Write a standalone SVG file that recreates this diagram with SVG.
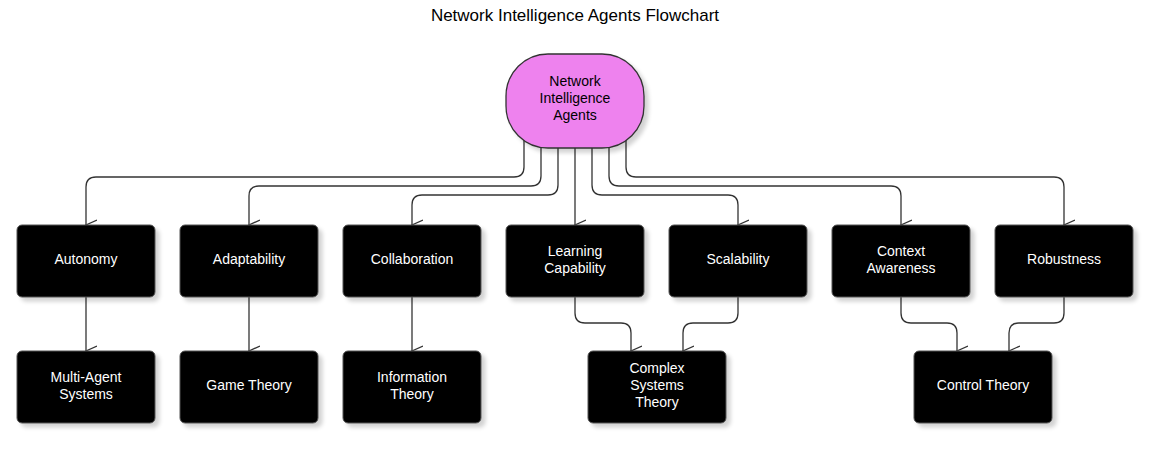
<svg xmlns="http://www.w3.org/2000/svg" width="1166" height="467" viewBox="0 0 1166 467">
<defs>
<marker id="a" markerWidth="12" markerHeight="12" refX="6" refY="11" orient="auto-start-reverse" markerUnits="userSpaceOnUse" viewBox="0 0 12 12"><path d="M1 0 L6 11 L11 0" fill="none" stroke="#333" stroke-width="1.3"/></marker>
<filter id="s" x="-10%" y="-10%" width="130%" height="130%"><feOffset dx="4" dy="4" in="SourceAlpha"/><feGaussianBlur stdDeviation="2"/><feComponentTransfer><feFuncA type="linear" slope="0.18"/></feComponentTransfer><feMerge><feMergeNode/><feMergeNode in="SourceGraphic"/></feMerge></filter>
</defs>
<style>
text{font-family:"Liberation Sans",Arial,sans-serif;font-size:14px;text-anchor:middle}
.b rect{fill:#000;stroke:#555;stroke-width:1;filter:url(#s)}
.b text{fill:#fff}
.e path{fill:none;stroke:#333;stroke-width:1.3;marker-end:url(#a)}
</style>
<rect width="1166" height="467" fill="#fff"/>
<text x="575" y="21" style="font-size:17px" fill="#000">Network Intelligence Agents Flowchart</text>
<g class="e">
<path d="M524 140 V167 Q524 177 514 177 H96 Q86 177 86 187 V225"/>
<path d="M541 145 V176 Q541 186 531 186 H259 Q249 186 249 196 V225"/>
<path d="M558 147 V185 Q558 195 548 195 H422 Q412 195 412 205 V225"/>
<path d="M575 148 V225"/>
<path d="M592 147 V185 Q592 195 602 195 H728 Q738 195 738 205 V225"/>
<path d="M609 145 V176 Q609 186 619 186 H891 Q901 186 901 196 V225"/>
<path d="M626 140 V167 Q626 177 636 177 H1054 Q1064 177 1064 187 V225"/>
<path d="M86 297 V351"/>
<path d="M249 297 V351"/>
<path d="M412 297 V351"/>
<path d="M575 297 V313 Q575 323 585 323 H621 Q631 323 631 333 V351"/>
<path d="M738 297 V313 Q738 323 728 323 H693 Q683 323 683 333 V351"/>
<path d="M901 297 V313 Q901 323 911 323 H947 Q957 323 957 333 V351"/>
<path d="M1064 297 V313 Q1064 323 1054 323 H1019 Q1009 323 1009 333 V351"/>
</g>
<g id="root"><rect x="506" y="54" width="138" height="94" rx="42" fill="#ee82ee" stroke="#333" stroke-width="1.3" filter="url(#s)"/><text x="575" y="86">Network</text><text x="575" y="103">Intelligence</text><text x="575" y="120">Agents</text></g>
<g id="autonomy" class="b"><rect x="17" y="225" width="138" height="72" rx="5"/><text x="86" y="264">Autonomy</text></g>
<g id="adaptability" class="b"><rect x="180" y="225" width="138" height="72" rx="5"/><text x="249" y="264">Adaptability</text></g>
<g id="collaboration" class="b"><rect x="343" y="225" width="138" height="72" rx="5"/><text x="412" y="264">Collaboration</text></g>
<g id="learning" class="b"><rect x="506" y="225" width="138" height="72" rx="5"/><text x="575" y="256">Learning</text><text x="575" y="273">Capability</text></g>
<g id="scalability" class="b"><rect x="669" y="225" width="138" height="72" rx="5"/><text x="738" y="264">Scalability</text></g>
<g id="context" class="b"><rect x="832" y="225" width="138" height="72" rx="5"/><text x="901" y="256">Context</text><text x="901" y="273">Awareness</text></g>
<g id="robustness" class="b"><rect x="995" y="225" width="138" height="72" rx="5"/><text x="1064" y="264">Robustness</text></g>
<g id="mas" class="b"><rect x="17" y="351" width="138" height="72" rx="5"/><text x="86" y="382">Multi-Agent</text><text x="86" y="399">Systems</text></g>
<g id="game" class="b"><rect x="180" y="351" width="138" height="72" rx="5"/><text x="249" y="390">Game Theory</text></g>
<g id="info" class="b"><rect x="343" y="351" width="138" height="72" rx="5"/><text x="412" y="382">Information</text><text x="412" y="399">Theory</text></g>
<g id="complex" class="b"><rect x="588" y="351" width="138" height="72" rx="5"/><text x="657" y="373">Complex</text><text x="657" y="390">Systems</text><text x="657" y="407">Theory</text></g>
<g id="control" class="b"><rect x="914" y="351" width="138" height="72" rx="5"/><text x="983" y="390">Control Theory</text></g>
</svg>
